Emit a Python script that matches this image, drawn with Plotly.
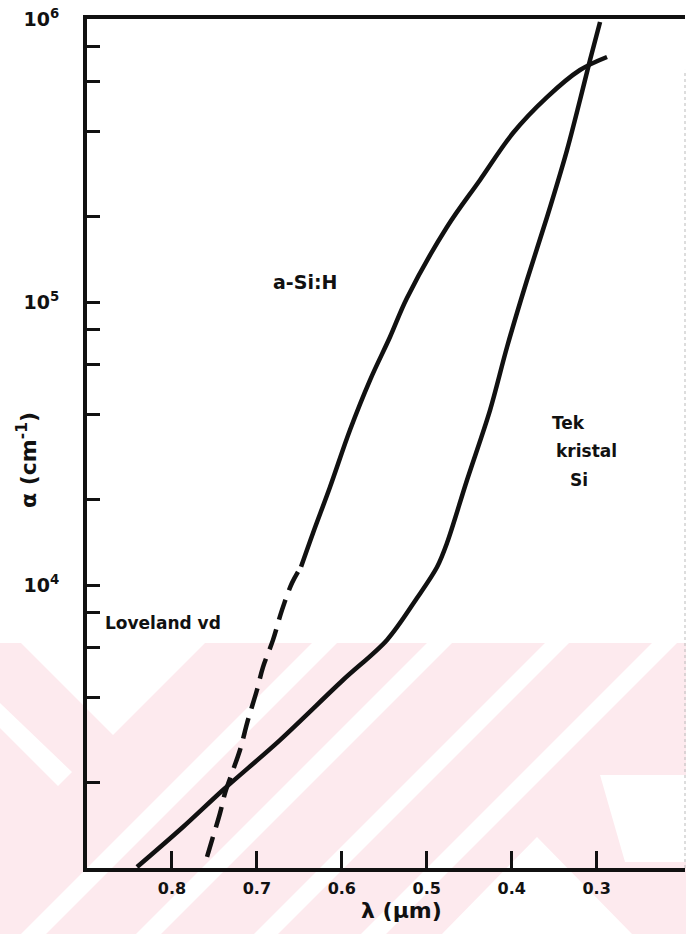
import plotly.graph_objects as go

# ---- data ----
asi_dash_lambda = [0.7587, 0.7517, 0.7434, 0.7375, 0.7293, 0.7199, 0.7105, 0.6999, 0.6928, 0.6810, 0.6704, 0.6587, 0.6480]
asi_dash_alpha = [1094, 1288, 1563, 1841, 2168, 2612, 3335, 4256, 5129, 6397, 8166, 10160, 11600]

asi_solid_lambda = [0.6480, 0.6339, 0.6139, 0.5904, 0.5668, 0.5433, 0.5233, 0.4762, 0.4373, 0.3985, 0.3584, 0.3196, 0.2878]
asi_solid_alpha = [11600, 15270, 22200, 35300, 52980, 75200, 103300, 184100, 270000, 395500, 529800, 660400, 734200]

csi_lambda = [0.8411, 0.7870, 0.7399, 0.6728, 0.5986, 0.5468, 0.5115, 0.4879, 0.4762, 0.4526, 0.4255, 0.4055, 0.3820, 0.3584, 0.3349, 0.3196, 0.3078, 0.2960]
csi_alpha = [1008, 1396, 1887, 2832, 4616, 6397, 8995, 11580, 14070, 23500, 41500, 69340, 119600, 199700, 344300, 517300, 716400, 975900]

x_tickvals = [0.8, 0.7, 0.6, 0.5, 0.4, 0.3]
x_ticktext = ["0.8", "0.7", "0.6", "0.5", "0.4", "0.3"]

y_major_vals = [1e4, 1e5, 1e6]
y_major_text = ["10<sup>4</sup>", "10<sup>5</sup>", "10<sup>6</sup>"]
y_minor_vals = [2e3, 4e3, 6e3, 8e3, 2e4, 4e4, 6e4, 8e4, 2e5, 4e5, 6e5, 8e5]

# ---- layout geometry ----
W, H = 686, 934
L, R, T, B = 87, 1, 19, 66
PW, PH = W - L - R, H - T - B


def px(x):
    return (x - L) / PW


def py(y):
    return (H - B - y) / PH


FONT = "DejaVu Sans"
INK = "#111111"

fig = go.Figure()

fig.add_trace(go.Scatter(x=asi_dash_lambda, y=asi_dash_alpha, mode="lines",
                         line=dict(color=INK, width=4.5, dash="21px,10px", shape="spline", smoothing=1.0),
                         showlegend=False, hoverinfo="skip"))
fig.add_trace(go.Scatter(x=asi_solid_lambda, y=asi_solid_alpha, mode="lines",
                         line=dict(color=INK, width=4.5, shape="spline", smoothing=1.0),
                         showlegend=False, hoverinfo="skip"))
fig.add_trace(go.Scatter(x=csi_lambda, y=csi_alpha, mode="lines",
                         line=dict(color=INK, width=4.5, shape="spline", smoothing=0.9),
                         showlegend=False, hoverinfo="skip"))

# ---- pink watermark background (decoration) ----
PINK = "#fdeaee"
shapes = []
shapes.append(dict(type="rect", xref="paper", yref="paper", x0=px(0), x1=px(W), y0=py(H), y1=py(643),
                   fillcolor=PINK, line=dict(width=0), layer="below"))


def poly(points):
    s = "M " + " L ".join(f"{px(a):.4f},{py(b):.4f}" for a, b in points) + " Z"
    return dict(type="path", xref="paper", yref="paper", path=s, fillcolor="white",
                line=dict(width=0), layer="below")


# V-shaped white notch at top left
shapes.append(poly([(20, 642), (206, 642), (113, 735)]))
# up-right white stripes (x + y = c)
for c1, c2 in [(955, 980), (1070, 1095), (1188, 1212), (1295, 1320)]:
    shapes.append(poly([(c1 - 643, 643), (c2 - 643, 643), (c2 - H, H), (c1 - H, H)]))
# down-right white stripe on the left
shapes.append(poly([(0, 703), (0, 728), (58, 786), (72, 772)]))
# white chevrons lower right
shapes.append(poly([(537, 837), (632, 934), (442, 934)]))
shapes.append(poly([(600, 775), (686, 775), (686, 862), (625, 862)]))

# thin right frame line
shapes.append(dict(type="line", xref="paper", yref="paper", x0=1, x1=1, y0=0, y1=0.94,
                   line=dict(color="#bbbbbb", width=1, dash="dot")))

fig.update_layout(shapes=shapes)

fig.update_xaxes(range=[0.9, 0.196], tickvals=x_tickvals, ticktext=x_ticktext,
                 ticks="inside", ticklen=17, tickwidth=2.5, tickcolor=INK,
                 showline=True, linewidth=3.5, linecolor=INK, mirror=True,
                 showgrid=False, zeroline=False,
                 tickfont=dict(family=FONT, size=16, color=INK, weight="bold"),
                 ticklabelstandoff=3)
fig.update_yaxes(type="log", range=[3, 6], tickvals=y_major_vals, ticktext=y_major_text,
                 ticks="inside", ticklen=13, tickwidth=3, tickcolor=INK,
                 minor=dict(tickmode="array", tickvals=y_minor_vals, ticks="inside",
                            ticklen=13, tickwidth=3, tickcolor=INK, showgrid=False),
                 showline=True, linewidth=4, linecolor=INK,
                 showgrid=False, zeroline=False,
                 tickfont=dict(family=FONT, size=19, color=INK, weight="bold"),
                 ticklabelstandoff=20)

ann = []


def add_text(text, x, y, size, xanchor="center", **kw):
    ann.append(dict(text=text, x=px(x), y=py(y), xref="paper", yref="paper", showarrow=False,
                    xanchor=xanchor, yanchor="middle",
                    font=dict(family=FONT, size=size, color=INK, weight="bold"), **kw))


add_text("a-Si:H", 305, 282, 19)
add_text("Tek", 568, 423, 17)
add_text("kristal", 586, 451, 17)
add_text("Si", 579, 480, 17)
add_text("Loveland vd", 103, 623, 17, xanchor="left")
add_text("λ (µm)", 401, 911, 22)
add_text("α (cm<sup>-1</sup>)", 27, 460, 22, textangle=-90)

fig.update_layout(annotations=ann, width=W, height=H,
                  margin=dict(l=L, r=R, t=T, b=B, autoexpand=False),
                  paper_bgcolor="white", plot_bgcolor="white", showlegend=False)

fig.write_html("out.html", config={"displayModeBar": False},
               post_script="document.body.style.margin='0';document.body.style.overflow='hidden';")
